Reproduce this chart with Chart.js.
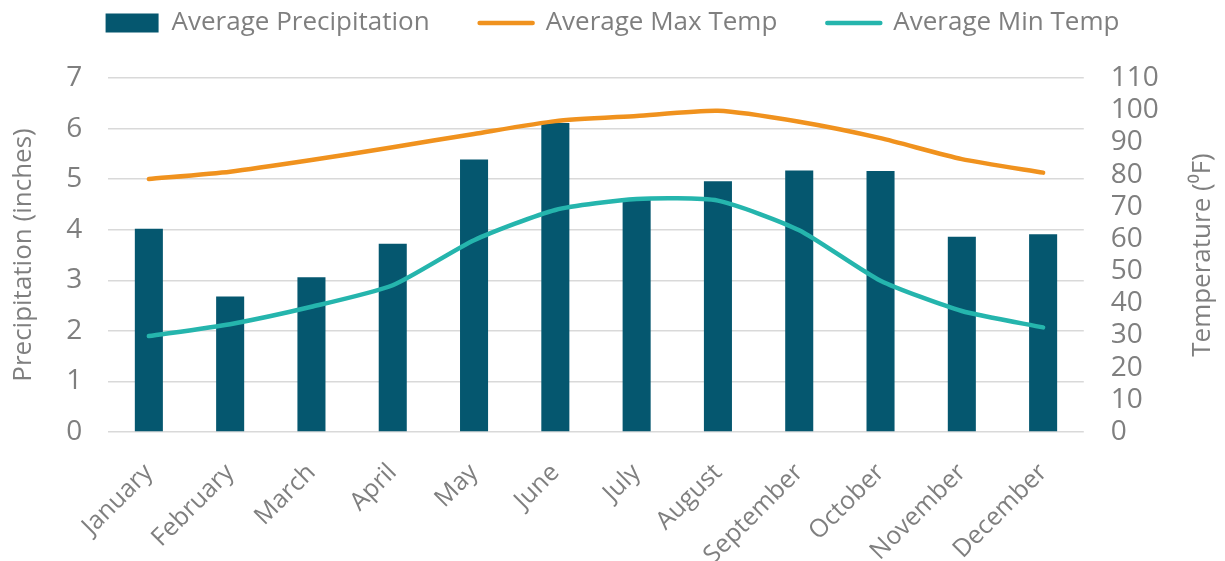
<!DOCTYPE html>
<html>
<head>
<meta charset="utf-8">
<script src="https://cdn.jsdelivr.net/npm/chart.js@4.4.1/dist/chart.umd.min.js"></script>
<style>
  html, body { margin: 0; padding: 0; background: #ffffff; }
  #wrap { width: 1225px; height: 561px; position: relative; }
</style>
</head>
<body>
<div id="wrap"><canvas id="c"></canvas></div>
<script>
// ---- data ----
const months = ['January', 'February', 'March', 'April', 'May', 'June', 'July', 'August', 'September', 'October', 'November', 'December'];
const precipitation = [4.02, 2.68, 3.06, 3.72, 5.39, 6.11, 4.6, 4.96, 5.17, 5.16, 3.86, 3.91];
const maxTemp = [78.6, 80.9, 84.5, 88.5, 92.6, 96.6, 98.2, 99.8, 96.4, 91.3, 84.8, 80.6];
const minTemp = [29.8, 33.5, 38.9, 45.6, 59.6, 69.0, 72.4, 71.9, 62.7, 47.0, 37.6, 32.5];
const seriesNames = ['Average Precipitation', 'Average Max Temp', 'Average Min Temp'];
const leftAxisTitle = 'Precipitation (inches)';
const rightAxisTitle = 'Temperature (\u2070F)';
const leftTicks = { min: 0, max: 7, step: 1 };
const rightTicks = { min: 0, max: 110, step: 10 };

// ---- styles ----
const GRAY = '#7f7f7f';
const FONT = '"Open Sans", "DejaVu Sans", sans-serif';
const BAR = '#05576f';
const ORANGE = '#f0921e';
const TEAL = '#25b5ad';
const TITLE_SIZE = 26;
const TITLE_LH = 1.2;
const X_AXIS_HEIGHT = 129;

const rightTitlePlugin = {
  id: 'rightTitle',
  afterDraw(chart) {
    const s = chart.scales.y1;
    const ctx = chart.ctx;
    const pad = s.options.title.padding;
    const offset = TITLE_SIZE * TITLE_LH / 2 + (pad.top || 0);
    ctx.save();
    ctx.font = TITLE_SIZE + 'px ' + FONT;
    ctx.fillStyle = GRAY;
    ctx.textAlign = 'center';
    ctx.textBaseline = 'middle';
    ctx.translate(s.right - offset, (s.top + s.bottom) / 2);
    ctx.rotate(-Math.PI / 2);
    ctx.fillText(rightAxisTitle, 0, 0);
    ctx.restore();
  }
};

new Chart(document.getElementById('c'), {
  data: {
    labels: months,
    datasets: [
      {
        type: 'bar',
        label: seriesNames[0],
        data: precipitation,
        backgroundColor: BAR,
        borderWidth: 0,
        yAxisID: 'y',
        order: 3,
        categoryPercentage: 1,
        barPercentage: 0.345
      },
      {
        type: 'line',
        label: seriesNames[1],
        data: maxTemp,
        borderColor: ORANGE,
        backgroundColor: ORANGE,
        borderWidth: 4.5,
        borderCapStyle: 'round',
        borderJoinStyle: 'round',
        pointRadius: 0,
        tension: 0.2,
        yAxisID: 'y1',
        order: 1
      },
      {
        type: 'line',
        label: seriesNames[2],
        data: minTemp,
        borderColor: TEAL,
        backgroundColor: TEAL,
        borderWidth: 4.5,
        borderCapStyle: 'round',
        borderJoinStyle: 'round',
        pointRadius: 0,
        tension: 0.2,
        yAxisID: 'y1',
        order: 2
      }
    ]
  },
  options: {
    responsive: true,
    maintainAspectRatio: false,
    animation: false,
    layout: { padding: { top: -40, left: 0, right: 0, bottom: 0 } },
    plugins: {
      tooltip: { enabled: false },
      title: {
        display: true,
        text: '',
        weight: 500,
        font: { size: 10, lineHeight: 1 },
        padding: { top: 0, bottom: 22 }
      },
      legend: {
        display: true,
        position: 'top',
        labels: {
          usePointStyle: true,
          pointStyleWidth: 53,
          boxHeight: 19,
          padding: 50,
          color: GRAY,
          font: { family: FONT, size: 26 },
          sort: (a, b) => a.datasetIndex - b.datasetIndex,
          generateLabels(chart) {
            const items = Chart.defaults.plugins.legend.labels.generateLabels(chart);
            items.forEach(it => {
              const ds = chart.data.datasets[it.datasetIndex];
              if (ds.type === 'bar') {
                it.pointStyle = 'rect';
                it.fillStyle = ds.backgroundColor;
                it.lineWidth = 0;
              } else {
                it.pointStyle = 'line';
                it.strokeStyle = ds.borderColor;
                it.lineWidth = ds.borderWidth;
                it.lineCap = 'round';
              }
            });
            return items;
          }
        }
      }
    },
    scales: {
      x: {
        grid: { display: false, drawTicks: false },
        border: { display: false },
        ticks: {
          color: GRAY,
          font: { family: FONT, size: 25 },
          minRotation: 45,
          maxRotation: 45,
          padding: 26,
          autoSkip: false
        },
        afterFit(scale) { scale.height = Math.min(scale.height, X_AXIS_HEIGHT); }
      },
      y: {
        position: 'left',
        min: leftTicks.min,
        max: leftTicks.max,
        grid: { color: '#d9d9d9', lineWidth: 1.5, drawTicks: false },
        border: { display: false },
        ticks: {
          stepSize: leftTicks.step,
          color: GRAY,
          font: { family: FONT, size: 28 },
          padding: 26,
          autoSkip: false
        },
        title: {
          display: true,
          text: leftAxisTitle,
          color: GRAY,
          font: { family: FONT, size: TITLE_SIZE, lineHeight: TITLE_LH },
          padding: { top: 8, bottom: 1 }
        }
      },
      y1: {
        position: 'right',
        min: rightTicks.min,
        max: rightTicks.max,
        grid: { display: false, drawTicks: false },
        border: { display: false },
        ticks: {
          stepSize: rightTicks.step,
          color: GRAY,
          font: { family: FONT, size: 28 },
          padding: 27,
          autoSkip: false
        },
        title: {
          display: true,
          text: '',
          color: GRAY,
          font: { family: FONT, size: TITLE_SIZE, lineHeight: TITLE_LH },
          padding: { top: 7, bottom: 1 }
        }
      }
    }
  },
  plugins: [rightTitlePlugin]
});
</script>
</body>
</html>
